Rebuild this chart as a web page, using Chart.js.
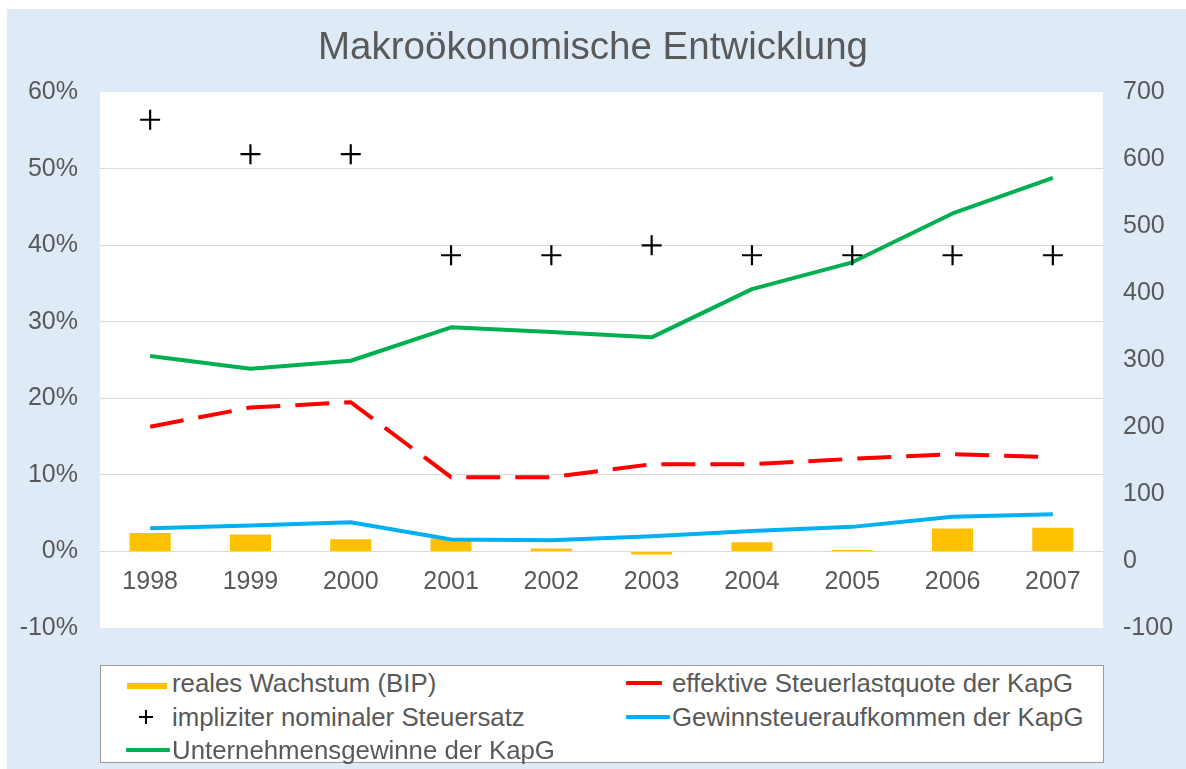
<!DOCTYPE html>
<html lang="de">
<head>
<meta charset="utf-8">
<title>Makroökonomische Entwicklung</title>
<script src="https://cdn.jsdelivr.net/npm/chart.js@4/dist/chart.umd.min.js"></script>
<style>
  html, body { margin: 0; padding: 0; background: #fff; }
  #wrap { position: relative; width: 1186px; height: 769px; overflow: hidden; }
  #chart { position: absolute; left: 0; top: 0; }
  #legend {
    position: absolute; left: 100px; top: 665px; width: 1004px; height: 98px;
    box-sizing: border-box; border: 1px solid #9b9b9b; background: #fff;
    font-family: "Liberation Sans", Arial, sans-serif; font-size: 25.8px; color: #595959;
  }
  .item { position: absolute; height: 30px; line-height: 30px; white-space: nowrap; }
  .sym { position: absolute; }
</style>
</head>
<body>
<div id="wrap">
  <canvas id="chart" width="1186" height="769"></canvas>
  <div id="legend"></div>
</div>
<script>
  const years = ["1998", "1999", "2000", "2001", "2002", "2003", "2004", "2005", "2006", "2007"];

  // left axis, percent
  const realesWachstum = [2.4, 2.2, 1.6, 1.7, 0.4, -0.4, 1.2, 0.2, 3.0, 3.1];
  const effektiveQuote = [16.3, 18.8, 19.5, 9.7, 9.7, 11.4, 11.4, 12.1, 12.7, 12.3];
  const nominalerSatz = [56.4, 51.9, 51.9, 38.7, 38.7, 40.0, 38.7, 38.7, 38.7, 38.7];

  // right axis
  const steueraufkommen = [49, 53, 58, 32, 31, 37, 45, 51, 66, 70];
  const unternehmensgewinne = [306, 287, 299, 349, 342, 334, 406, 446, 519, 572];

  const leftTicks = { min: -10, max: 60, step: 10 };
  const rightTicks = { min: -100, max: 700, step: 100 };

  const textColor = "#595959";
  Chart.defaults.font.family = "'Liberation Sans', Arial, sans-serif";
  Chart.defaults.color = textColor;

  const backdrop = {
    id: "backdrop",
    beforeDraw(chart) {
      const { ctx, chartArea: a } = chart;
      ctx.save();
      ctx.fillStyle = "#deebf7";
      ctx.fillRect(7, 9, chart.width - 7, chart.height - 9);
      ctx.fillStyle = "#ffffff";
      ctx.fillRect(a.left, a.top, a.right - a.left, a.bottom - a.top);
      ctx.restore();
    },
  };

  const chart = new Chart(document.getElementById("chart"), {
    type: "bar",
    data: {
      labels: years,
      datasets: [
        {
          type: "bar",
          label: "reales Wachstum (BIP)",
          data: realesWachstum,
          backgroundColor: "#ffc000",
          yAxisID: "y",
          barPercentage: 0.41,
          categoryPercentage: 1,
          order: 5,
        },
        {
          type: "line",
          label: "effektive Steuerlastquote der KapG",
          data: effektiveQuote,
          borderColor: "#ff0000",
          backgroundColor: "#ff0000",
          borderWidth: 4,
          borderDash: [34, 15],
          pointRadius: 0,
          tension: 0,
          yAxisID: "y",
          order: 3,
        },
        {
          type: "line",
          label: "impliziter nominaler Steuersatz",
          data: nominalerSatz,
          showLine: false,
          pointStyle: "cross",
          pointRadius: 10,
          pointBorderWidth: 2.2,
          borderColor: "#000000",
          backgroundColor: "#000000",
          yAxisID: "y",
          order: 1,
        },
        {
          type: "line",
          label: "Gewinnsteueraufkommen der KapG",
          data: steueraufkommen,
          borderColor: "#00b0f0",
          backgroundColor: "#00b0f0",
          borderWidth: 4,
          borderJoinStyle: "round",
          pointRadius: 0,
          tension: 0,
          yAxisID: "y2",
          order: 2,
        },
        {
          type: "line",
          label: "Unternehmensgewinne der KapG",
          data: unternehmensgewinne,
          borderColor: "#00b050",
          backgroundColor: "#00b050",
          borderWidth: 4,
          borderJoinStyle: "round",
          pointRadius: 0,
          tension: 0,
          yAxisID: "y2",
          order: 2,
        },
      ],
    },
    options: {
      responsive: false,
      animation: false,
      devicePixelRatio: 1,
      layout: { padding: { left: 0, right: 0, top: 0, bottom: 141 } },
      plugins: {
        legend: { display: false },
        tooltip: { enabled: false },
        title: {
          display: true,
          text: "Makroökonomische Entwicklung",
          color: textColor,
          font: { size: 38.5, weight: "normal" },
          padding: { top: 25, bottom: 21 },
        },
      },
      scales: {
        x: {
          position: { y: 0 },
          offset: true,
          grid: { display: false, drawTicks: false },
          border: { display: false },
          ticks: { color: textColor, font: { size: 25 }, padding: 16 },
        },
        y: {
          position: "left",
          min: leftTicks.min,
          max: leftTicks.max,
          ticks: {
            stepSize: leftTicks.step,
            color: textColor,
            font: { size: 25 },
            padding: 22,
            callback: (v) => v + "%",
          },
          grid: {
            drawTicks: false,
            color: (c) =>
              c.tick && (c.tick.value === leftTicks.max || c.tick.value === leftTicks.min)
                ? "rgba(0,0,0,0)"
                : "#d9d9d9",
          },
          border: { display: false },
          afterFit: (s) => { s.width = 100; },
        },
        y2: {
          position: "right",
          min: rightTicks.min,
          max: rightTicks.max,
          ticks: {
            stepSize: rightTicks.step,
            color: textColor,
            font: { size: 25 },
            padding: 20,
          },
          grid: { display: false, drawTicks: false },
          border: { display: false },
          afterFit: (s) => { s.width = 83; },
        },
      },
    },
    plugins: [backdrop],
  });

  // legend in two columns, like the original
  function legendSymbol(ds) {
    const el = document.createElement("div");
    el.className = "sym";
    if (ds.type === "bar") {
      Object.assign(el.style, { left: "0px", top: "15px", width: "40px", height: "6px", background: ds.backgroundColor });
    } else if (ds.pointStyle === "cross") {
      Object.assign(el.style, { left: "12px", top: "8px", width: "14px", height: "14px" });
      el.innerHTML =
        '<div style="position:absolute;left:6px;top:0;width:2px;height:14px;background:#000"></div>' +
        '<div style="position:absolute;left:0;top:6px;width:14px;height:2px;background:#000"></div>';
    } else {
      const w = ds.borderDash ? 36 : 44;
      Object.assign(el.style, { left: "-1px", top: "13px", width: w + "px", height: "4px", background: ds.borderColor, borderRadius: "1px" });
    }
    return el;
  }

  const legendSlots = [
    { index: 0, left: 26, top: 2 },
    { index: 1, left: 526, top: 2 },
    { index: 2, left: 26, top: 36 },
    { index: 3, left: 526, top: 36 },
    { index: 4, left: 26, top: 69 },
  ];

  const legendEl = document.getElementById("legend");
  legendSlots.forEach((slot) => {
    const ds = chart.data.datasets[slot.index];
    const item = document.createElement("div");
    item.className = "item";
    item.style.left = slot.left + "px";
    item.style.top = slot.top + "px";
    item.appendChild(legendSymbol(ds));
    const label = document.createElement("span");
    label.textContent = ds.label;
    label.style.position = "absolute";
    label.style.left = "45px";
    item.appendChild(label);
    legendEl.appendChild(item);
  });
</script>
</body>
</html>
